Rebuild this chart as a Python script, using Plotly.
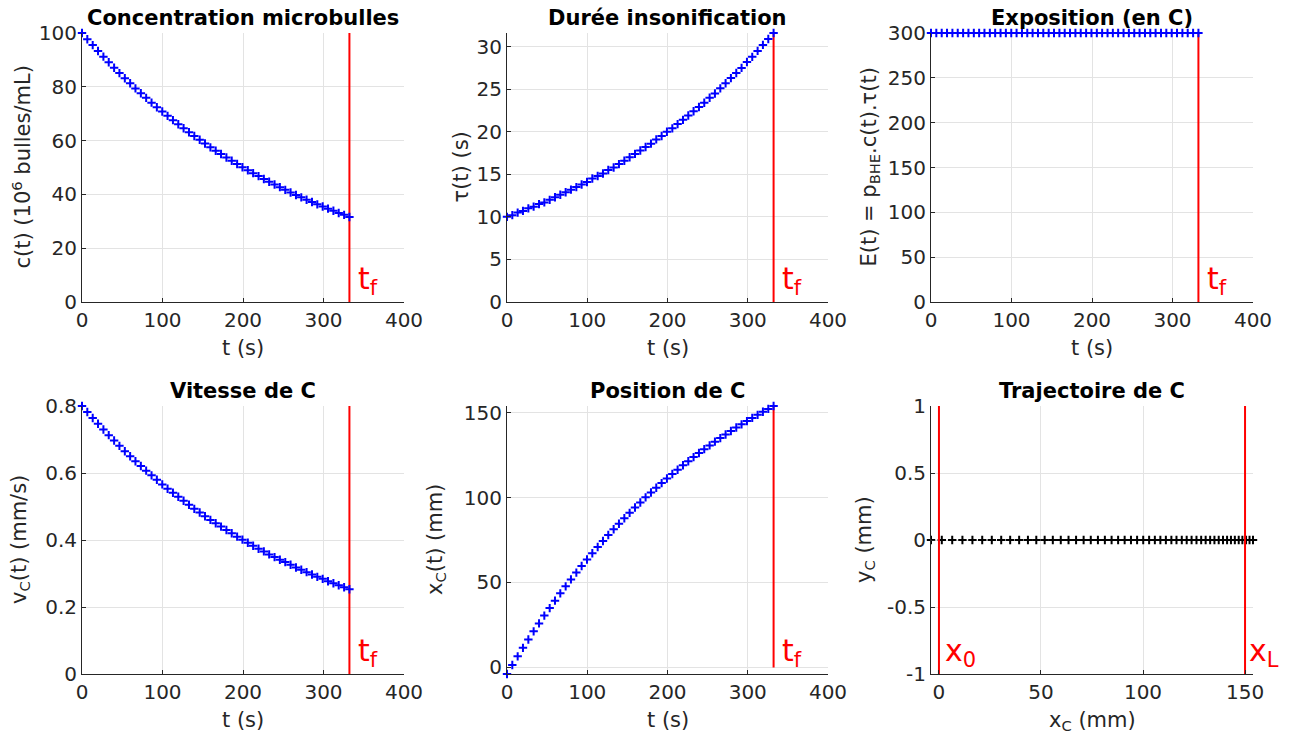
import plotly.graph_objects as go

# ---------------- data ----------------
t = [0.0, 6.6, 13.3, 19.9, 26.6, 33.2, 39.9, 46.5, 53.2, 59.8, 66.4, 73.1, 79.7, 86.4,
     93.0, 99.7, 106.3, 113.0, 119.6, 126.2, 132.9, 139.5, 146.2, 152.8, 159.5, 166.1,
     172.7, 179.4, 186.0, 192.7, 199.3, 206.0, 212.6, 219.3, 225.9, 232.5, 239.2, 245.8,
     252.5, 259.1, 265.8, 272.4, 279.0, 285.7, 292.3, 299.0, 305.6, 312.3, 318.9, 325.6,
     332.2]

conc = [100.0, 97.7, 95.5, 93.3, 91.2, 89.1, 87.1, 85.1, 83.2, 81.3, 79.4, 77.6, 75.9,
        74.1, 72.4, 70.8, 69.2, 67.6, 66.1, 64.6, 63.1, 61.7, 60.3, 58.9, 57.5, 56.2,
        55.0, 53.7, 52.5, 51.3, 50.1, 49.0, 47.9, 46.8, 45.7, 44.7, 43.7, 42.7, 41.7,
        40.7, 39.8, 38.9, 38.0, 37.2, 36.3, 35.5, 34.7, 33.9, 33.1, 32.4, 31.6]

tau = [10.0, 10.2, 10.5, 10.7, 11.0, 11.2, 11.5, 11.7, 12.0, 12.3, 12.6, 12.9, 13.2,
       13.5, 13.8, 14.1, 14.5, 14.8, 15.1, 15.5, 15.8, 16.2, 16.6, 17.0, 17.4, 17.8,
       18.2, 18.6, 19.1, 19.5, 20.0, 20.4, 20.9, 21.4, 21.9, 22.4, 22.9, 23.4, 24.0,
       24.5, 25.1, 25.7, 26.3, 26.9, 27.5, 28.2, 28.8, 29.5, 30.2, 30.9, 31.6]

expo = [300.0] * 51

vit = [0.800, 0.782, 0.764, 0.747, 0.730, 0.713, 0.697, 0.681, 0.665, 0.650, 0.635,
       0.621, 0.607, 0.593, 0.580, 0.566, 0.553, 0.541, 0.529, 0.517, 0.505, 0.493,
       0.482, 0.471, 0.460, 0.450, 0.440, 0.430, 0.420, 0.410, 0.401, 0.392, 0.383,
       0.374, 0.366, 0.357, 0.349, 0.341, 0.334, 0.326, 0.318, 0.311, 0.304, 0.297,
       0.290, 0.284, 0.277, 0.271, 0.265, 0.259, 0.253]

pos = [-3.9, 1.4, 6.5, 11.5, 16.4, 21.2, 25.9, 30.5, 34.9, 39.3, 43.6, 47.7, 51.8,
       55.8, 59.7, 63.5, 67.2, 70.9, 74.4, 77.9, 81.3, 84.6, 87.8, 91.0, 94.1, 97.1,
       100.1, 103.0, 105.8, 108.5, 111.2, 113.9, 116.4, 119.0, 121.4, 123.8, 126.2,
       128.5, 130.7, 132.9, 135.0, 137.1, 139.2, 141.2, 143.1, 145.0, 146.9, 148.7,
       150.5, 152.2, 153.9]

ytraj = [0.0] * 51

t_f = 332.2
x_0 = 0.0
x_L = 150.0

traj_yticks = [-1, -0.5, 0, 0.5, 1]
traj_yticklabels = ["-1", "-0.5", "0", "0.5", "1"]

titles = ["Concentration microbulles", "Durée insonification", "Exposition (en C)",
          "Vitesse de C", "Position de C", "Trajectoire de C"]
ylabels = ["c(t) (10<sup>6</sup> bulles/mL)", "τ(t) (s)",
           "E(t) = p<sub>BHE</sub>.c(t).τ(t)", "v<sub>C</sub>(t) (mm/s)",
           "x<sub>C</sub>(t) (mm)", "y<sub>C</sub> (mm)"]
xlabels = ["t (s)", "t (s)", "t (s)", "t (s)", "t (s)", "x<sub>C</sub> (mm)"]

# ---------------- styling ----------------
FONT = "DejaVu Sans"
INK = "#262626"
GRID = "#e3e3e3"
BLUE = "#0000ff"
RED = "#ff0000"
TICK = 20
LAB = 21
TIT = 21
RTXT = 30

W, H = 1290, 740
L, T = 82, 33
RIGHT, BOTTOM = 1253, 674
R, B = W - RIGHT, H - BOTTOM
PW, PH = W - L - R, H - T - B


def dx(a, b):
    return [(a - L) / PW, (b - L) / PW]


def dy(top, bot):
    return [(BOTTOM - bot) / PH, (BOTTOM - top) / PH]


xdoms = [dx(82, 404), dx(507, 828), dx(931, 1253)]
ydoms = [dy(33, 302), dy(406, 674)]

fig = go.Figure()

series = [(t, conc), (t, tau), (t, expo), (t, vit), (t, pos), (pos, ytraj)]
for i, (xs, ys) in enumerate(series):
    k = i + 1
    xa = "x" if k == 1 else f"x{k}"
    ya = "y" if k == 1 else f"y{k}"
    col = "#000000" if k == 6 else BLUE
    if k <= 5:
        fig.add_trace(go.Scatter(
            x=[t_f, t_f], y=[0, max(ys)], mode="lines", xaxis=xa, yaxis=ya,
            showlegend=False, line=dict(color=RED, width=2)))
    fig.add_trace(go.Scatter(
        x=xs, y=ys, mode="markers", xaxis=xa, yaxis=ya, showlegend=False,
        marker=dict(symbol="cross-thin", size=6, line=dict(color=col, width=2)),
        cliponaxis=False))
    if k == 6:
        for xv in (x_0, x_L):
            fig.add_trace(go.Scatter(
                x=[xv, xv], y=[-1, 1], mode="lines", xaxis=xa, yaxis=ya,
                showlegend=False, line=dict(color=RED, width=2)))

yranges = [[0, 100], [0, max(tau)], [0, 300], [0, 0.8], [min(pos), max(pos)], [-1, 1]]
ydticks = [20, 5, 50, 0.2, 50, 0.5]
xranges = [[0, 400]] * 5 + [[min(pos), max(pos)]]
xdticks = [100] * 5 + [50]

axcommon = dict(showgrid=True, gridcolor=GRID, gridwidth=1, showline=True,
                linecolor=INK, linewidth=1, ticks="inside", ticklen=4,
                tickcolor=INK, zeroline=False, mirror=False,
                tickfont=dict(family=FONT, size=TICK, color=INK), fixedrange=True)

layout = dict(width=W, height=H, margin=dict(l=L, r=R, t=T, b=B),
              paper_bgcolor="white", plot_bgcolor="white",
              font=dict(family=FONT, color=INK), annotations=[])

ylab_shift = [-45, -33, -47, -47, -56, -51]

for i in range(6):
    k = i + 1
    row, colm = divmod(i, 3)
    xs = "xaxis" if k == 1 else f"xaxis{k}"
    ys = "yaxis" if k == 1 else f"yaxis{k}"
    ya_name = "y" if k == 1 else f"y{k}"
    xa_name = "x" if k == 1 else f"x{k}"
    layout[xs] = dict(axcommon, domain=xdoms[colm], anchor=ya_name,
                      range=xranges[i], dtick=xdticks[i], tick0=0)
    layout[ys] = dict(axcommon, domain=ydoms[row], anchor=xa_name,
                      range=yranges[i], dtick=ydticks[i], tick0=0)
    if k == 6:
        layout[ys].update(tickmode="array", tickvals=traj_yticks,
                          ticktext=traj_yticklabels)
    # title
    layout["annotations"].append(dict(
        text=f"<b>{titles[i]}</b>", xref=f"{xa_name} domain", yref=f"{ya_name} domain",
        x=0.5, y=1, xanchor="center", yanchor="bottom", yshift=1, showarrow=False,
        font=dict(family=FONT, size=TIT, color="#000000")))
    # x label
    layout["annotations"].append(dict(
        text=xlabels[i], xref=f"{xa_name} domain", yref=f"{ya_name} domain",
        x=0.5, y=0, xanchor="center", yanchor="top", yshift=-32, showarrow=False,
        font=dict(family=FONT, size=LAB, color=INK)))
    # y label
    layout["annotations"].append(dict(
        text=ylabels[i], xref=f"{xa_name} domain", yref=f"{ya_name} domain",
        x=0, y=0.5, xanchor="right", yanchor="middle", xshift=ylab_shift[i],
        textangle=-90, showarrow=False, font=dict(family=FONT, size=LAB, color=INK)))
    # red labels
    if k <= 5:
        layout["annotations"].append(dict(
            text="t<sub>f</sub>", xref=xa_name, yref=f"{ya_name} domain",
            x=t_f + 8, y=0.08, xanchor="left", yanchor="middle", showarrow=False,
            font=dict(family=FONT, size=RTXT, color=RED)))
    else:
        layout["annotations"].append(dict(
            text="x<sub>0</sub>", xref=xa_name, yref=f"{ya_name} domain",
            x=x_0 + 2, y=0.08, xanchor="left", yanchor="middle", showarrow=False,
            font=dict(family=FONT, size=RTXT, color=RED)))
        layout["annotations"].append(dict(
            text="x<sub>L</sub>", xref=xa_name, yref=f"{ya_name} domain",
            x=x_L + 1, y=0.08, xanchor="left", yanchor="middle", showarrow=False,
            font=dict(family=FONT, size=RTXT, color=RED)))

fig.update_layout(**layout)
fig.write_html("out.html", config={"displayModeBar": False},
               post_script="document.body.style.margin='0';"
                           "document.body.style.overflow='hidden';")
